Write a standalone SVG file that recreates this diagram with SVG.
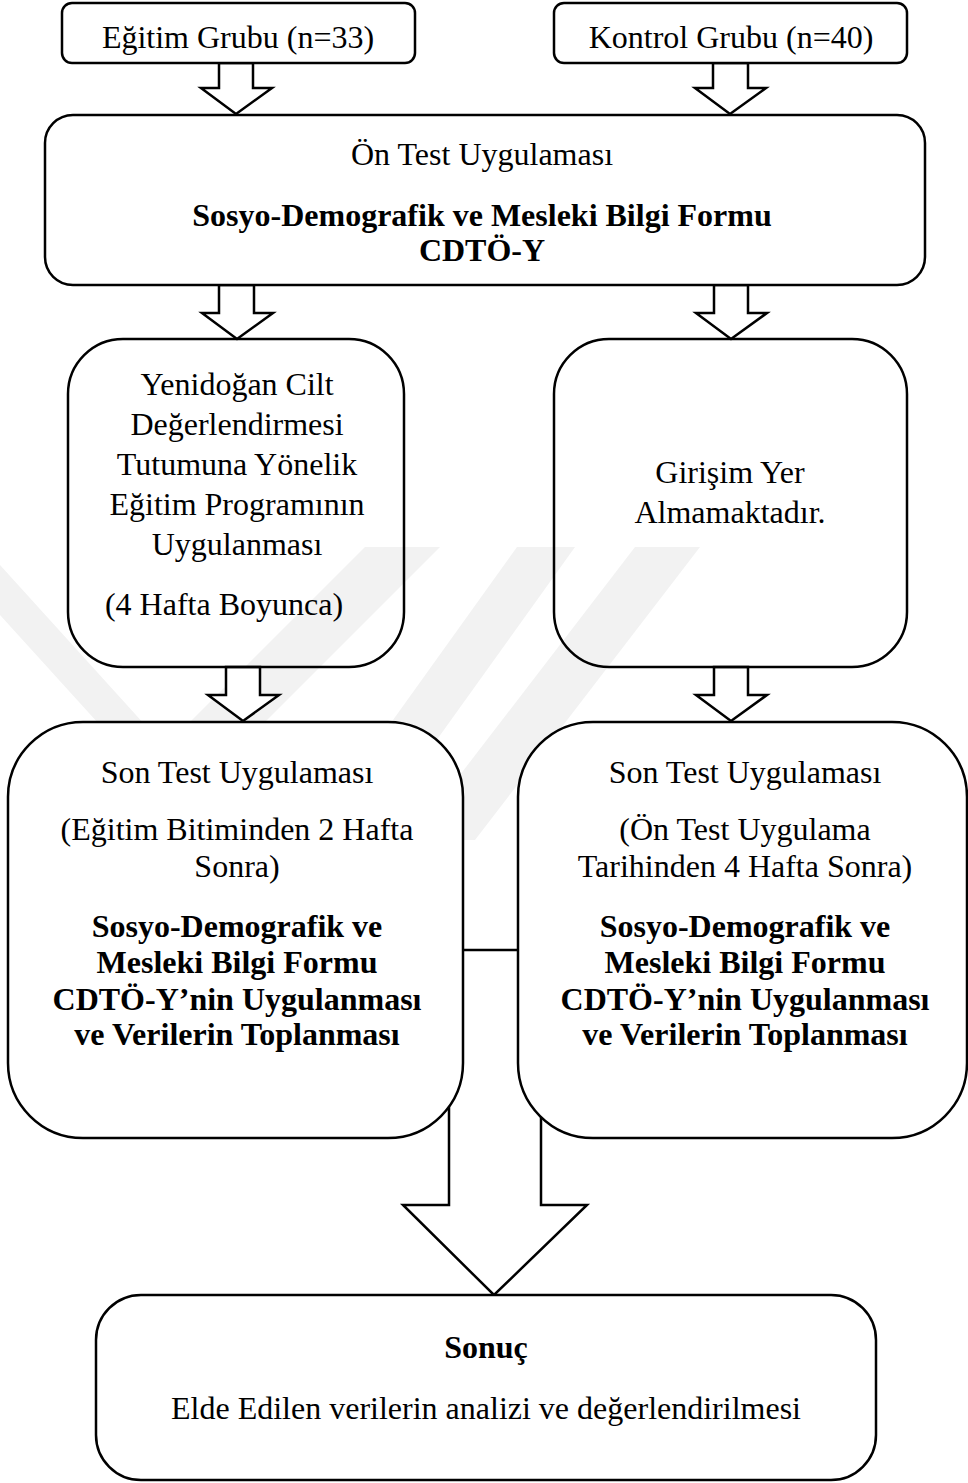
<svg xmlns="http://www.w3.org/2000/svg" width="968" height="1483" viewBox="0 0 968 1483">
<style>
.box{fill:#fff;stroke:#000;stroke-width:2.5}
.open{fill:none;stroke:#000;stroke-width:2.5}
.arr{fill:#fff;stroke:#000;stroke-width:2.5;stroke-linejoin:miter}
.ln{fill:none;stroke:#000;stroke-width:2.5}
.wm{fill:#f2f2f2;stroke:none}
text{font-family:"Liberation Serif","Times New Roman",serif;font-size:32px;fill:#000;text-anchor:middle}
.b{font-weight:bold}
</style>
<rect width="968" height="1483" fill="#fff"/>
<g id="watermark">
<polygon class="wm" points="0,565 165,747 365,547 440,547 177,810 0,615"/>
<polygon class="wm" points="517,547 575,547 365,840 307,840"/>
<polygon class="wm" points="635,547 700,547 475,840 410,840"/>
</g>
<g id="connectors">
<polygon class="arr" points="219,63 253,63 253,88 272,88 236,114 201,88 219,88"/>
<polygon class="arr" points="713,63 748,63 748,88 766,88 730,114 695,88 713,88"/>
<polygon class="arr" points="219,285 254,285 254,313 273,313 237,339 202,313 219,313"/>
<polygon class="arr" points="714,285 748,285 748,313 767,313 731,339 696,313 714,313"/>
<polygon class="arr" points="226,667 260,667 260,695 279,695 243,721 208,695 226,695"/>
<polygon class="arr" points="714,667 748,667 748,695 767,695 731,721 696,695 714,695"/>
<polyline class="arr" points="449,1090 449,1205 403,1205 494,1295 587,1205 541,1205 541,1090"/>
<line class="ln" x1="463" y1="950" x2="518" y2="950"/>
</g>
<g id="n-egitim">
<rect class="box" x="62" y="3" width="353" height="60" rx="10"/>
<text x="238" y="48">Eğitim Grubu (n=33)</text>
</g>
<g id="n-kontrol">
<rect class="box" x="554" y="3" width="353" height="60" rx="10"/>
<text x="731" y="48">Kontrol Grubu (n=40)</text>
</g>
<g id="n-ontest">
<rect class="box" x="45" y="115" width="880" height="170" rx="28"/>
<text x="482" y="165">Ön Test Uygulaması</text>
<text class="b" x="482" y="226">Sosyo-Demografik ve Mesleki Bilgi Formu</text>
<text class="b" x="482" y="261">CDTÖ-Y</text>
</g>
<g id="n-egitimprog">
<rect class="open" x="68" y="339" width="336" height="328" rx="55"/>
<text x="237" y="395">Yenidoğan Cilt</text>
<text x="237" y="435">Değerlendirmesi</text>
<text x="237" y="475">Tutumuna Yönelik</text>
<text x="237" y="515">Eğitim Programının</text>
<text x="237" y="555">Uygulanması</text>
<text x="224" y="615">(4 Hafta Boyunca)</text>
</g>
<g id="n-girisim">
<rect class="open" x="554" y="339" width="353" height="328" rx="55"/>
<text x="730" y="483">Girişim Yer</text>
<text x="730" y="523">Almamaktadır.</text>
</g>
<g id="n-sontest1">
<rect class="box" x="8" y="722" width="455" height="416" rx="75"/>
<text x="237" y="783">Son Test Uygulaması</text>
<text x="237" y="840">(Eğitim Bitiminden 2 Hafta</text>
<text x="237" y="877">Sonra)</text>
<text class="b" x="237" y="937">Sosyo-Demografik ve</text>
<text class="b" x="237" y="973">Mesleki Bilgi Formu</text>
<text class="b" x="237" y="1010">CDTÖ-Y’nin Uygulanması</text>
<text class="b" x="237" y="1045">ve Verilerin Toplanması</text>
</g>
<g id="n-sontest2">
<rect class="box" x="518" y="722" width="449" height="416" rx="75"/>
<text x="745" y="783">Son Test Uygulaması</text>
<text x="745" y="840">(Ön Test Uygulama</text>
<text x="745" y="877">Tarihinden 4 Hafta Sonra)</text>
<text class="b" x="745" y="937">Sosyo-Demografik ve</text>
<text class="b" x="745" y="973">Mesleki Bilgi Formu</text>
<text class="b" x="745" y="1010">CDTÖ-Y’nin Uygulanması</text>
<text class="b" x="745" y="1045">ve Verilerin Toplanması</text>
</g>
<g id="n-sonuc">
<rect class="box" x="96" y="1295" width="780" height="185" rx="45"/>
<text class="b" x="486" y="1358">Sonuç</text>
<text x="486" y="1419">Elde Edilen verilerin analizi ve değerlendirilmesi</text>
</g>
</svg>
